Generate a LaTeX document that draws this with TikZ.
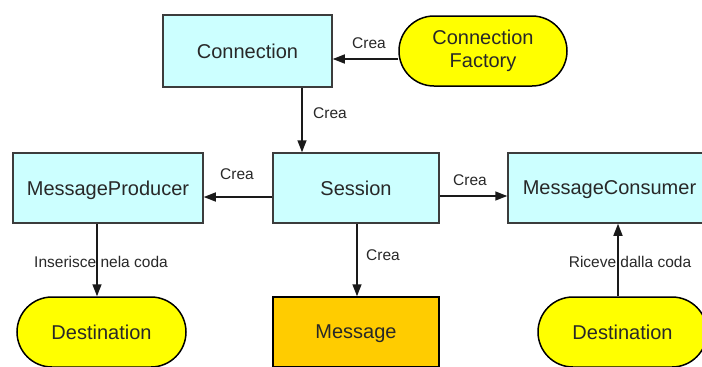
\documentclass[tikz,border=0pt]{standalone}
\usepackage{fontspec}
\setmainfont{Liberation Sans}
\usetikzlibrary{arrows.meta}
\definecolor{cyanf}{HTML}{CCFFFF}
\definecolor{yelf}{HTML}{FFFF00}
\definecolor{orf}{HTML}{FFCC00}
\definecolor{bordc}{HTML}{3C3C3C}
\definecolor{txtc}{HTML}{282828}
\definecolor{linec}{HTML}{1A1A1A}
\tikzset{
  boxbase/.style={draw=bordc, line width=1.5pt, inner sep=0pt, text=txtc,
    font=\fontsize{20}{23}\selectfont, align=center},
  flat/.style={text depth=0pt},
  cyanbox/.style={boxbase, fill=cyanf},
  pill/.style={boxbase, fill=yelf, draw=black, rounded corners=35pt},
  msgbox/.style={boxbase, fill=orf, draw=black, flat},
  arr/.style={draw=linec, line width=1.5pt, -{Triangle[length=12pt,width=9pt]}},
  lbl/.style={font=\fontsize{15.5}{17}\selectfont, text=txtc, inner sep=0pt}
}
\begin{document}
\begin{tikzpicture}[x=1pt,y=-1pt]
\useasboundingbox (0,0) rectangle (702,367);
\clip (0,0) rectangle (702,367);
\fill[white] (0,0) rectangle (702,367);

\node[cyanbox, minimum width=169pt, minimum height=72pt] (conn) at (247.5,51) {Connection};
\node[pill, minimum width=168pt, minimum height=70pt] (fac) at (483,51) {Connection\\Factory};
\node[cyanbox, flat, minimum width=190pt, minimum height=70pt] (prod) at (108,188) {MessageProducer};
\node[cyanbox, minimum width=166pt, minimum height=70pt] (sess) at (356,188) {Session};
\node[cyanbox, flat, minimum width=203pt, minimum height=70pt] (cons) at (609.5,188) {MessageConsumer};
\node[pill, minimum width=169pt, minimum height=70pt] (dest1) at (101.5,332) {Destination};
\node[msgbox, minimum width=166pt, minimum height=70pt] (msg) at (356,332) {Message};
\node[pill, minimum width=169pt, minimum height=70pt] (dest2) at (622.5,332) {Destination};

\coordinate (ya) at (0,59);
\coordinate (xa) at (302,0);
\coordinate (yb) at (0,197);
\coordinate (yc) at (0,196);
\coordinate (xb) at (97,0);
\coordinate (xc) at (357,0);
\coordinate (xd) at (618,0);

\draw[arr] (fac.west |- ya) -- (conn.east |- ya);
\draw[arr] (conn.south -| xa) -- (sess.north -| xa);
\draw[arr] (sess.west |- yb) -- (prod.east |- yb);
\draw[arr] (sess.east |- yc) -- (cons.west |- yc);
\draw[arr] (prod.south -| xb) -- (dest1.north -| xb);
\draw[arr] (sess.south -| xc) -- (msg.north -| xc);
\draw[arr] (dest2.north -| xd) -- (cons.south -| xd);

\node[lbl] (l1) at (369,43) {Crea};
\node[lbl] (l2) at (330,113) {Crea};
\node[lbl] (l3) at (237,174) {Crea};
\node[lbl] (l4) at (470,180) {Crea};
\node[lbl] (l5) at (101,262) {Inserisce nela coda};
\node[lbl] (l6) at (383,255) {Crea};
\node[lbl] (l7) at (630,262) {Riceve dalla coda};
\end{tikzpicture}
\end{document}
